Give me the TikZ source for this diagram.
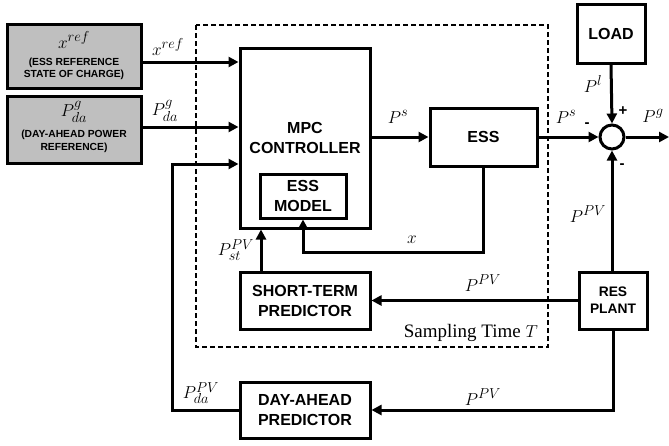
\documentclass[tikz,border=0pt]{standalone}
\usepackage{fontspec}
\setmainfont{Liberation Serif}
\setsansfont{Liberation Sans}
\usetikzlibrary{arrows.meta,calc}
\definecolor{boxgray}{RGB}{191,191,191}
\begin{document}
\begin{tikzpicture}[x=1pt,y=-1pt,
  blk/.style={draw,line width=3pt,rectangle,inner sep=0pt,align=center,
     font=\sffamily\bfseries\fontsize{16}{20}\selectfont},
  refblk/.style={blk,fill=boxgray},
  arr/.style={line width=3pt,-{Triangle[length=10pt,width=10pt]}},
  lbl/.style={font=\fontsize{19}{22}\selectfont,inner sep=0pt},
  sgn/.style={font=\sffamily\bfseries\fontsize{15}{16}\selectfont,inner sep=0pt},
  small/.style={font=\sffamily\bfseries\fontsize{10.3}{12.5}\selectfont}
]
\useasboundingbox (0,0) rectangle (669,445);
% sampling-time frame
\draw[line width=1.8pt,dash pattern=on 5pt off 3pt] (196,25) rectangle (548,347);
% blocks
\node[refblk,minimum width=134pt,minimum height=64pt] (xref) at (74,56) {};
\node[lbl] (xreft) at (74,40) {$x^{ref}$};
\node[small,align=center,inner sep=0pt] (xrefs) at (74,69) {(ESS REFERENCE\\STATE OF CHARGE)};
\node[refblk,minimum width=134pt,minimum height=67pt] (pda) at (74,129.5) {};
\node[lbl] (pdat) at (74,112) {$P^{g}_{da}$};
\node[small,align=center,inner sep=0pt] (pdas) at (74,141.5) {(DAY-AHEAD POWER\\REFERENCE)};
\node[blk,minimum width=130pt,minimum height=180pt] (mpc) at (305,138) {MPC\\CONTROLLER};
\node[blk,minimum width=86pt,minimum height=44pt] (essm) at (303,196) {ESS\\MODEL};
\node[blk,minimum width=107pt,minimum height=58pt] (ess) at (483.5,137) {ESS};
\node[blk,minimum width=68pt,minimum height=59pt] (load) at (611,33.5) {LOAD};
\node[draw,circle,line width=3pt,minimum size=24pt,inner sep=0pt] (sum) at (612,137) {};
\node[blk,minimum width=68pt,minimum height=57pt,font=\sffamily\bfseries\fontsize{13.8}{17}\selectfont] (res) at (613,300.5) {RES\\PLANT};
\node[blk,minimum width=130pt,minimum height=57pt] (stp) at (305,300.5) {SHORT-TERM\\PREDICTOR};
\node[blk,minimum width=130pt,minimum height=56pt] (dap) at (305,410) {DAY-AHEAD\\PREDICTOR};
\coordinate (fb) at (172,164);
\coordinate (xc) at (303,252);
\coordinate (out) at (669,137);
% connectors
\draw[arr] ([yshift=-6pt]xref.east) -- ([yshift=-6pt]xref.east -| mpc.west);
\draw[arr] ([yshift=2.5pt]pda.east) -- ([yshift=2.5pt]pda.east -| mpc.west);
\draw[arr] (ess.west -| mpc.east) -- (ess.west);
\draw[arr] (ess.east) -- (sum.west);
\draw[arr] (load.south) -- (sum.north);
\draw[arr] (sum.east) -- (out);
\draw[arr] (sum.south |- res.north) -- (sum.south);
\draw[arr] (res.west) -- (stp.east);
\draw[arr] (res.south) |- (dap.east);
\draw[arr] (dap.west) -| (fb) -- (fb -| mpc.west);
\draw[arr] ([xshift=-44pt]stp.north) -- ([xshift=-44pt]stp.north |- mpc.south);
\draw[arr] (ess.south) |- (xc) -- (essm.south);
% labels
\node[lbl] (l1) at (168,47) {$x^{ref}$};
\node[lbl] (l2) at (165,111) {$P^{g}_{da}$};
\node[lbl] (l3) at (398,117) {$P^{s}$};
\node[lbl] (l4) at (566,117) {$P^{s}$};
\node[sgn] (m1) at (587,125) {-};
\node[lbl] (l5) at (593,84) {$P^{l}$};
\node[sgn] (p1) at (623,111) {+};
\node[lbl] (l6) at (653,116) {$P^{g}$};
\node[sgn] (m2) at (622,166) {-};
\node[lbl] (l7) at (588,214) {$P^{PV}$};
\node[lbl] (l8) at (412,240) {$x$};
\node[lbl] (l9) at (236,250) {$P^{PV}_{st}$};
\node[lbl] (l10) at (483,283) {$P^{PV}$};
\node[lbl,anchor=east] (l11) at (538,333) {Sampling Time $T$};
\node[lbl] (l12) at (483,397) {$P^{PV}$};
\node[lbl] (l13) at (201,393) {$P^{PV}_{da}$};
\end{tikzpicture}
\end{document}
